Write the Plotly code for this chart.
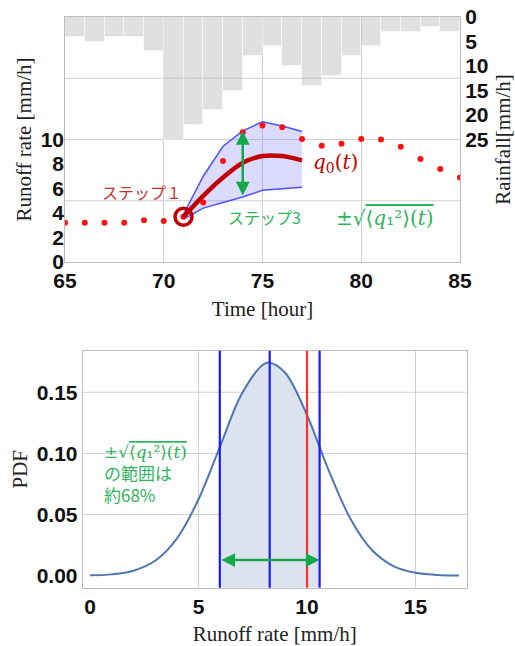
import plotly.graph_objects as go

# ---- hourly rainfall (start hour of each 1-hour interval) ----
rain_hours = list(range(65, 85))
rainfall = [4, 5, 4, 4, 7, 25, 22, 19, 15, 8, 6, 10, 14, 12, 8, 6, 3, 3, 2, 3]

# ---- observed runoff rate [mm/h] ----
obs_hours = list(range(65, 86))
runoff_obs = [3.2, 3.2, 3.2, 3.2, 3.4, 3.35, 3.7, 4.85, 8.25, 10.6, 11.15,
              11.0, 10.05, 9.5, 9.65, 10.05, 10.0, 9.4, 8.4, 7.6, 6.9]

# ---- forecast: mean q0(t) and the +/- sqrt(<q1^2>) band ----
fc_hours = [71, 72, 73, 74, 75, 76, 77]
q0_mean = [3.7, 5.4, 6.9, 8.1, 8.65, 8.65, 8.3]
band_upper = [3.9, 7.0, 9.45, 10.7, 11.45, 11.1, 10.65]
band_lower = [3.5, 4.4, 4.85, 5.3, 5.85, 5.95, 6.1]
arrow_hour = 74

# ---- forecast distribution at t = 77 h ----
pdf_mean = 8.28
pdf_sd = 2.30
obs_at_77 = 10.0
pdf_x = [0, 1, 2, 3, 4, 5, 5.98, 7, 8, 8.28, 9, 10, 10.58, 11, 12, 13, 14, 15, 16, 17]
pdf_y = [0.0003, 0.0011, 0.0041, 0.0122, 0.0304, 0.0625, 0.1052, 0.1490, 0.1729,
         0.1742, 0.1658, 0.1314, 0.1052, 0.0861, 0.0466, 0.0208, 0.0077, 0.0024,
         0.0006, 0.0001]

# ---- styling ----
TICK_FONT = dict(family="Liberation Sans", size=21, color="#111111", weight="bold")
TITLE_FONT = dict(family="Liberation Serif", size=21, color="#222222")
JP = "Noto Sans CJK JP"
GRID = "#d0d0d0"
FRAME = "#bdbdbd"
RED_TXT = "#c83232"
GREEN_TXT = "#2eb35a"
GREEN_ARROW = "#14a84a"

fig = go.Figure()

# rainfall bars hanging from the top (reversed right axis)
fig.add_trace(go.Bar(
    x=rain_hours, y=rainfall, width=1, offset=0,
    marker=dict(color="rgba(160,160,160,0.32)",
                line=dict(color="rgba(255,255,255,0.7)", width=0.8)),
    xaxis="x", yaxis="y", showlegend=False))

# uncertainty band
fig.add_trace(go.Scatter(
    x=fc_hours, y=band_lower, mode="lines",
    line=dict(color="#5050ff", width=1.5),
    xaxis="x", yaxis="y2", showlegend=False))
fig.add_trace(go.Scatter(
    x=fc_hours, y=band_upper, mode="lines", fill="tonexty",
    fillcolor="rgba(110,110,255,0.25)",
    line=dict(color="#5050ff", width=1.5),
    xaxis="x", yaxis="y2", showlegend=False))

# observed runoff
fig.add_trace(go.Scatter(
    x=obs_hours, y=runoff_obs, mode="markers",
    marker=dict(color="#ff1010", size=6),
    xaxis="x", yaxis="y2", showlegend=False))

# forecast mean
fig.add_trace(go.Scatter(
    x=fc_hours, y=q0_mean, mode="lines",
    line=dict(color="#c00000", width=4.5, shape="spline", smoothing=0.8),
    xaxis="x", yaxis="y2", showlegend=False))

# forecast start point
fig.add_trace(go.Scatter(
    x=[fc_hours[0]], y=[q0_mean[0]], mode="markers",
    marker=dict(symbol="circle-open", size=17, color="#c00000",
                line=dict(width=3.5, color="#c00000")),
    xaxis="x", yaxis="y2", showlegend=False))

# ---- lower panel: PDF ----
lo = pdf_mean - pdf_sd
hi = pdf_mean + pdf_sd
y_bottom = -0.0098
sub = [(x, y) for x, y in zip(pdf_x, pdf_y) if lo - 1e-9 <= x <= hi + 1e-9]
fig.add_trace(go.Scatter(
    x=[lo, hi], y=[y_bottom, y_bottom], mode="lines",
    line=dict(width=0, color="rgba(0,0,0,0)"),
    xaxis="x2", yaxis="y4", showlegend=False, hoverinfo="skip"))
fig.add_trace(go.Scatter(
    x=[p[0] for p in sub], y=[p[1] for p in sub], mode="lines",
    fill="tonexty", fillcolor="#dde3ee",
    line=dict(width=0, color="rgba(0,0,0,0)", shape="spline"),
    xaxis="x2", yaxis="y4", showlegend=False))
fig.add_trace(go.Scatter(
    x=pdf_x, y=pdf_y, mode="lines",
    line=dict(color="#4f76b3", width=2, shape="spline"),
    xaxis="x2", yaxis="y4", showlegend=False))

shapes = []
# grid lines
for v in [5, 10, 15]:
    shapes.append(dict(type="line", xref="x domain", yref="y2", x0=0, x1=1,
                       y0=v, y1=v, line=dict(color=GRID, width=1), layer="below"))
    shapes.append(dict(type="line", xref="x2", yref="y4 domain", x0=v, x1=v,
                       y0=0, y1=1, line=dict(color=GRID, width=1), layer="below"))
for v in [0.05, 0.10, 0.15]:
    shapes.append(dict(type="line", xref="x2 domain", yref="y4", x0=0, x1=1,
                       y0=v, y1=v, line=dict(color=GRID, width=1), layer="below"))
# mean, +/- sd and observed value
for v, c in [(lo, "#1a1aff"), (pdf_mean, "#1a1aff"), (obs_at_77, "#ff3030"), (hi, "#1a1aff")]:
    shapes.append(dict(type="line", xref="x2", yref="y4 domain", x0=v, x1=v,
                       y0=0, y1=1, line=dict(color=c, width=2.2)))

# square-root expression with an overlined radicand
sqrt_txt = ("±√<span style='text-decoration:overline'>⟨<i>q</i>₁²⟩(<i>t</i>)</span>")
i_arr = fc_hours.index(arrow_hour)

annotations = [
    # double-headed arrows
    dict(x=arrow_hour, y=band_upper[i_arr], ax=arrow_hour, ay=band_lower[i_arr],
         xref="x", yref="y2", axref="x", ayref="y2", text="", showarrow=True,
         arrowhead=2, startarrowhead=2, arrowside="end+start", arrowsize=1.1,
         arrowwidth=2.5, arrowcolor=GREEN_ARROW),
    dict(x=hi, y=0.0128, ax=lo, ay=0.0128, xref="x2", yref="y4",
         axref="x2", ayref="y4", text="", showarrow=True,
         arrowhead=2, startarrowhead=2, arrowside="end+start", arrowsize=1.1,
         arrowwidth=2.5, arrowcolor=GREEN_ARROW),
    # labels
    dict(x=68.9, y=5.75, xref="x", yref="y2", text="ステップ１", showarrow=False,
         font=dict(family=JP, size=16, color=RED_TXT)),
    dict(x=75.1, y=3.7, xref="x", yref="y2", text="ステップ3", showarrow=False,
         font=dict(family=JP, size=16, color=GREEN_TXT)),
    dict(x=78.7, y=8.1, xref="x", yref="y2", text="<i>q</i><sub>0</sub>(<i>t</i>)",
         showarrow=False, font=dict(family="DejaVu Serif", size=20, color="#c00000")),
    dict(x=81.2, y=3.6, xref="x", yref="y2", text=sqrt_txt, showarrow=False,
         font=dict(family="DejaVu Serif", size=20, color=GREEN_TXT)),
    dict(x=0.55, y=0.083, xref="x2", yref="y4", xanchor="left", align="left",
         text=sqrt_txt + "<br><span style='font-family:Noto Sans CJK JP'>の範囲は<br>約68%</span>",
         showarrow=False, font=dict(family="DejaVu Serif", size=17, color=GREEN_TXT)),
]

W, H = 515, 646
L, R, T, B = 65, 48, 17, 58
pw, ph = W - L - R, H - T - B

def dx(px):
    return (px - L) / pw

def dy(py):
    return 1 - (py - T) / ph

fig.update_layout(
    width=W, height=H, margin=dict(l=L, r=R, t=T, b=B, autoexpand=False),
    paper_bgcolor="white", plot_bgcolor="white",
    shapes=shapes, annotations=annotations, bargap=0,
    xaxis=dict(domain=[dx(65), dx(460)], anchor="y", range=[65, 85],
               tickvals=[65, 70, 75, 80, 85], showgrid=True, gridcolor=GRID,
               showline=True, linecolor=FRAME, mirror=True, ticks="",
               tickfont=TICK_FONT, zeroline=False, automargin=False,
               title=dict(text="Time [hour]", font=TITLE_FONT, standoff=10)),
    yaxis=dict(domain=[dy(262), dy(17)], anchor="x", side="right",
               range=[50, 0], tickvals=[0, 5, 10, 15, 20, 25], showgrid=False,
               showline=True, linecolor=FRAME, mirror=True, ticks="",
               tickfont=TICK_FONT, zeroline=False, automargin=False,
               title=dict(text="Rainfall[mm/h]", font=TITLE_FONT, standoff=8)),
    yaxis2=dict(overlaying="y", anchor="x", side="left", range=[0, 20],
                tickvals=[0, 2, 4, 6, 8, 10], showgrid=False, ticks="",
                tickfont=TICK_FONT, zeroline=False, automargin=False,
                title=dict(text="Runoff rate [mm/h]", font=TITLE_FONT, standoff=3)),
    xaxis2=dict(domain=[dx(82.7), dx(466.7)], anchor="y4", range=[-0.34, 17.36],
                tickvals=[0, 5, 10, 15], showgrid=False, showline=True,
                linecolor=FRAME, mirror=True, ticks="", tickfont=TICK_FONT,
                zeroline=False, automargin=False,
                title=dict(text="Runoff rate [mm/h]", font=TITLE_FONT, standoff=9)),
    yaxis4=dict(domain=[dy(587.7), dy(350.7)], anchor="x2", range=[y_bottom, 0.184],
                tickvals=[0, 0.05, 0.10, 0.15], tickformat=".2f", showgrid=False,
                showline=True, linecolor=FRAME, mirror=True, ticks="",
                tickfont=TICK_FONT, zeroline=False, automargin=False,
                title=dict(text="PDF", font=TITLE_FONT, standoff=3)),
)

fig.write_html("out.html")
